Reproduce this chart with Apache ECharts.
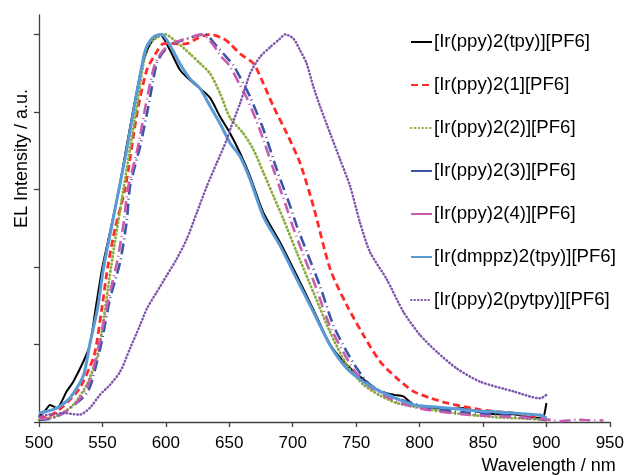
<!DOCTYPE html>
<html>
<head>
<meta charset="utf-8">
<script src="https://cdn.jsdelivr.net/npm/echarts@6/dist/echarts.min.js"></script>
<style>html,body{margin:0;padding:0;background:#fff;}#c{width:627px;height:475px;}</style>
</head>
<body>
<div id="c"></div>
<script>
// ---- data (wavelength nm / normalised EL intensity) ----
const seriesNames = ['[Ir(ppy)2(tpy)][PF6]','[Ir(ppy)2(1][PF6]','[Ir(ppy)2(2)][PF6]','[Ir(ppy)2(3)][PF6]','[Ir(ppy)2(4)][PF6]','[Ir(dmppz)2(tpy)][PF6]','[Ir(ppy)2(pytpy)][PF6]'];
const xTicks = [500,550,600,650,700,750,800,850,900,950];
const yTicks = [0,0.2,0.4,0.6,0.8,1.0];

const tpyX = [500,505,508.7,514,521.8,527,535,540,545,550,556,563,569,574,580,586,591,595.4,603.3,611.2,619,627,634.9,642.7,650.6,658.5,666.4,676.9,690,703.2,716.3,729.5,742.7,755.8,768.9,780,787.3,795,808,821.5,834.6,847.8,861,874,887,897,899,900];
const tpyY = [0.015,0.03,0.044,0.036,0.079,0.104,0.156,0.198,0.3,0.4,0.49,0.6,0.71,0.8,0.9,0.965,0.99,1.0,0.959,0.908,0.882,0.86,0.836,0.788,0.745,0.694,0.634,0.54,0.464,0.378,0.29,0.2,0.147,0.11,0.079,0.07,0.066,0.045,0.038,0.033,0.036,0.025,0.02,0.02,0.012,0.01,0.03,0.049];

const l1X = [500,508,519,532,542.8,545.3,549.4,554.2,560,567.8,577.5,585,592.8,598,604,610,616.5,624.4,634.9,645.4,650.6,658.5,669,676.9,684.8,695.3,705.8,716.3,729.5,742.7,755.8,768.9,782.1,795.2,808.4,821.5,834.6,847.8,861,874,887,900];
const l1Y = [0.01,0.015,0.04,0.087,0.164,0.2,0.29,0.4,0.5,0.6,0.8,0.908,0.955,0.976,0.977,0.975,0.976,0.989,1.0,0.989,0.976,0.95,0.925,0.873,0.814,0.745,0.668,0.557,0.395,0.301,0.224,0.156,0.113,0.079,0.062,0.049,0.04,0.032,0.027,0.023,0.016,0.01];

const l2X = [500,514,527,537.6,545.5,548,556.8,566.5,576.5,585,592,599.4,608.6,619,627,634.9,642.7,650.6,661,669,677,684.8,692.7,703.2,716.3,729.5,742.7,755.8,769,782,795,808.4,821,834.6,848,861,874,887,900];
const l2Y = [0.005,0.015,0.044,0.096,0.164,0.2,0.4,0.6,0.8,0.967,0.99,1.0,0.98,0.95,0.925,0.899,0.848,0.785,0.745,0.703,0.643,0.583,0.523,0.438,0.335,0.232,0.147,0.096,0.068,0.049,0.04,0.032,0.026,0.02,0.016,0.012,0.01,0.008,0.005];

const l3X = [500,511,520,530,537.6,541.6,549.4,556,563.9,569.2,571.8,579.7,586.2,592.8,598,605.9,613.8,624.4,631,640,645.4,653.2,661,666.4,677,687.5,698,703.2,711,721.6,732,742.7,750.6,761,782,808,834,861,874,887,900];
const l3Y = [0.005,0.01,0.025,0.05,0.074,0.104,0.207,0.318,0.412,0.519,0.608,0.711,0.814,0.925,0.955,0.976,0.985,0.997,1.0,0.97,0.95,0.92,0.874,0.839,0.754,0.651,0.557,0.506,0.44,0.35,0.25,0.181,0.138,0.096,0.062,0.036,0.025,0.02,0.015,0.01,0.005];

const l4X = [500,510,520,530,537,541,548,555,562,567,570,578,584,591,597,604,612,622,628,637,643,650,658,664,674,685,695,700,708,718,729,740,748,759,780,800,820,840,860,880,895,905,910,920,925,930,945];
const l4Y = [0.008,0.012,0.025,0.052,0.085,0.115,0.21,0.32,0.42,0.52,0.6,0.71,0.815,0.92,0.955,0.975,0.985,0.995,1.0,0.975,0.945,0.92,0.872,0.835,0.755,0.65,0.555,0.505,0.435,0.35,0.25,0.18,0.135,0.095,0.055,0.035,0.025,0.018,0.015,0.012,0.008,0.005,0.002,0.005,0.006,0.005,0.004];

const dmX = [500,514,524.4,535,540,546,551,557,563,569,574.4,580,583,586,591,596.7,603.3,611,619,627,635,642.7,650.6,658.5,666.4,676.9,690,703.2,716.3,729.5,742.7,755.8,768.9,782,795.2,808,821.5,834.6,847.8,861,874,887,895,900];
const dmY = [0.023,0.036,0.062,0.12,0.2,0.29,0.4,0.5,0.6,0.7,0.8,0.9,0.95,0.976,0.995,1.0,0.972,0.925,0.886,0.86,0.814,0.77,0.72,0.685,0.626,0.53,0.455,0.369,0.284,0.198,0.138,0.104,0.079,0.06,0.044,0.04,0.036,0.032,0.028,0.026,0.023,0.02,0.018,0.01];

const pyX = [500,510,519,532,540,548,556,564,571.8,579.7,585,592.8,600.7,608.6,616.5,624.4,632.3,640.1,648,650.6,658.5,666.4,674.3,682.2,690,694,700.6,705.8,711,716.3,721.6,729.5,737.4,745.3,753,761,774,787.3,800.5,813.6,829.4,847.8,874,895,900];
const pyY = [0.015,0.02,0.023,0.019,0.036,0.07,0.096,0.13,0.19,0.25,0.292,0.335,0.378,0.421,0.472,0.54,0.608,0.668,0.728,0.754,0.822,0.899,0.942,0.967,0.989,1.0,0.989,0.959,0.925,0.865,0.814,0.745,0.677,0.608,0.515,0.438,0.369,0.284,0.224,0.181,0.138,0.104,0.079,0.061,0.07];

const seriesX = [tpyX,l1X,l2X,l3X,l4X,dmX,pyX];
const seriesY = [tpyY,l1Y,l2Y,l3Y,l4Y,dmY,pyY];

// ---- styles ----
const colors = ['#000000','#ff2b2b','#8aac3c','#3a56a5','#c75bb0','#5b9bd5','#7d55ad'];
const styles = [
  {width:2, type:'solid'},
  {width:2.8, type:[7,4]},
  {width:2.8, type:[0.5,3.3], cap:'round'},
  {width:2.6, type:[11,4,1,4]},
  {width:2.6, type:[11,4,1,4]},
  {width:3, type:'solid'},
  {width:2.5, type:[0.5,3], cap:'round'}
];
const FONT = '"Liberation Sans", Arial, sans-serif';

const series = seriesNames.map((n,i)=>({
  name:n, type:'line', showSymbol:false, symbol:'none', silent:true,
  smooth:0.25,
  data: seriesX[i].map((x,k)=>[x, seriesY[i][k]]),
  lineStyle: Object.assign({color:colors[i]}, styles[i]),
  itemStyle:{color:colors[i]},
  z: 2+i
}));

const legendData = seriesNames.map((n,i)=>{
  const o = {name:n};
  if (i===3 || i===4) o.lineStyle = {type:'solid'};
  return o;
});

const chart = echarts.init(document.getElementById('c'), null, {renderer:'canvas'});
chart.setOption({
  animation:false,
  backgroundColor:'#ffffff',
  grid:{left:39, right:17, top:15, bottom:51, containLabel:false},
  legend:{
    orient:'vertical', left:410, top:32, padding:0, itemWidth:21, itemHeight:14, itemGap:23,
    data:legendData, selectedMode:false,
    itemStyle:{opacity:0},
    textStyle:{fontFamily:FONT, fontSize:18.6, color:'#000', lineHeight:20, padding:[0,0,0,-3]}
  },
  xAxis:{
    type:'value', min:xTicks[0], max:xTicks[xTicks.length-1], interval:50,
    name:'Wavelength / nm', nameLocation:'end', nameGap:6,
    nameTextStyle:{fontFamily:FONT, fontSize:18, color:'#000', align:'right', verticalAlign:'top', padding:[35,0,0,0]},
    axisLine:{lineStyle:{color:'#404040', width:1.3}},
    axisTick:{show:true, inside:false, length:5, lineStyle:{color:'#404040', width:1.3}},
    axisLabel:{fontFamily:FONT, fontSize:17, color:'#000', margin:13},
    splitLine:{show:false}
  },
  yAxis:{
    type:'value', min:0, max:1.05, interval:0.2,
    name:'EL Intensity / a.u.', nameLocation:'middle', nameGap:8, nameRotate:90,
    nameTextStyle:{fontFamily:FONT, fontSize:18, color:'#000', padding:[0,0,0,120]},
    axisLine:{show:true, lineStyle:{color:'#404040', width:1.3}},
    axisTick:{show:true, inside:false, length:5, customValues:yTicks, lineStyle:{color:'#404040', width:1.3}},
    axisLabel:{show:false},
    splitLine:{show:false}
  },
  series: series
});
</script>
</body>
</html>
